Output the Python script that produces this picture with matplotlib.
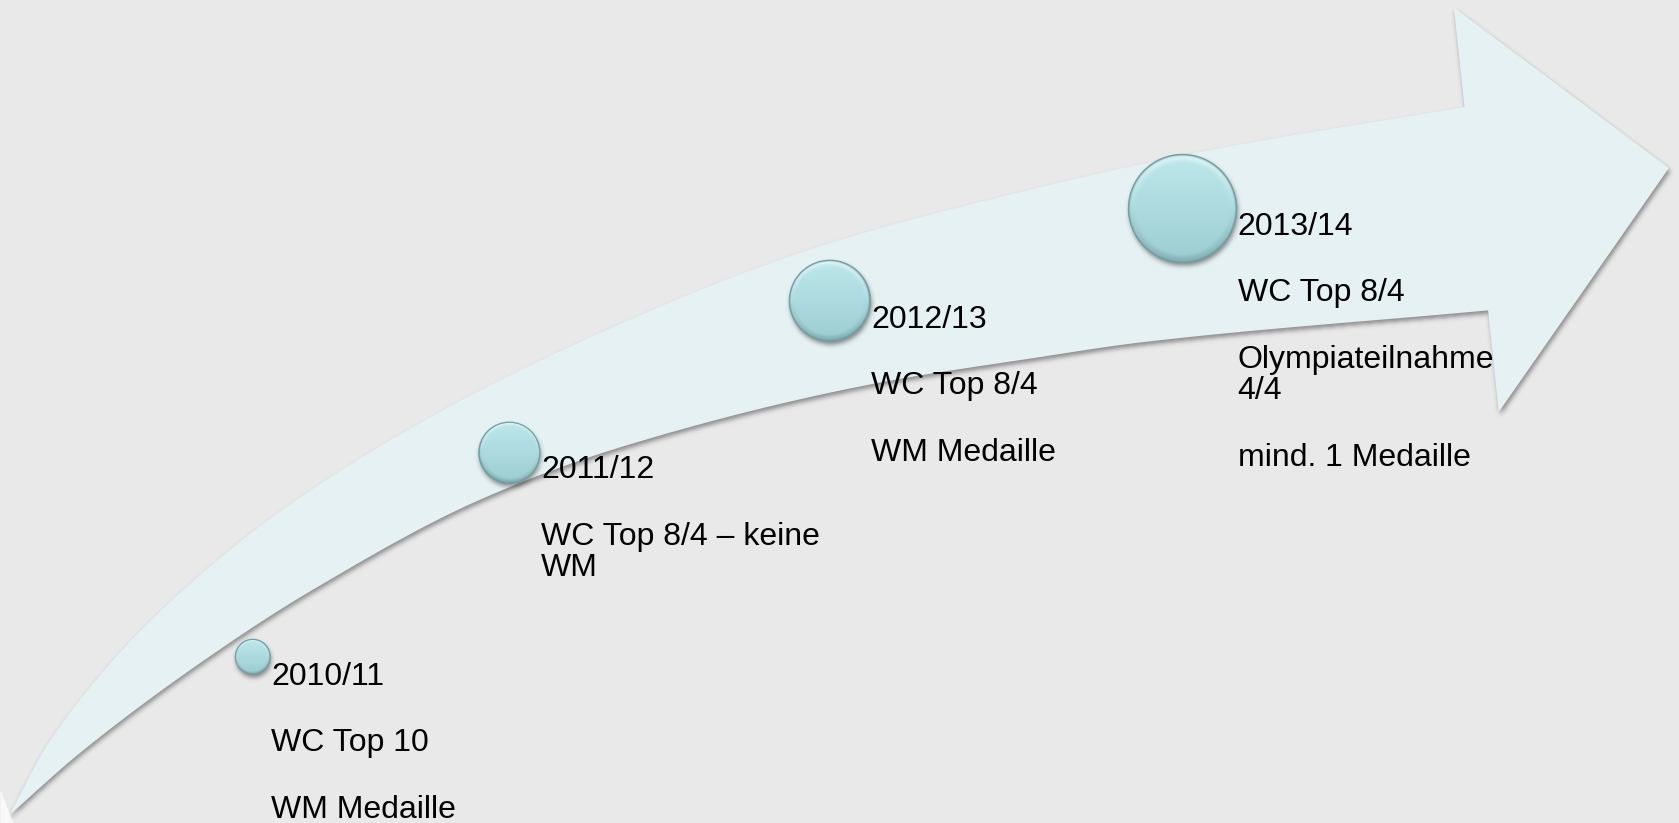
import numpy as np
import matplotlib
matplotlib.use("Agg")
import matplotlib.pyplot as plt
from matplotlib.path import Path
from matplotlib.patches import PathPatch, Circle, Polygon
from matplotlib.colors import to_rgb

# ---------------- data ----------------
seasons = ["2010/11", "2011/12", "2012/13", "2013/14"]
goals = [
    ["WC Top 10", "WM Medaille"],
    ["WC Top 8/4 – keine\nWM"],
    ["WC Top 8/4", "WM Medaille"],
    ["WC Top 8/4", "Olympiateilnahme\n4/4", "mind. 1 Medaille"],
]

# ---------------- layout (canvas units) ----------------
W, H = 1568, 769
bubble_xy = [(235.8, 613.7), (475.5, 423.0), (775.0, 281.0), (1104.5, 194.8)]
bubble_r = [16.3, 28.5, 37.8, 50.5]
first_baseline = [640.0, 447.0, 306.6, 219.5]
PARA_STEP = 62.0
LINE_STEP = 29.5
FONT_SIZE = 23.0

upper_edge = [(8, 762), (47, 691), (171, 551), (330, 432), (567, 308),
              (766, 230), (934, 184), (1121, 142), (1368, 100)]
lower_edge = [(8, 762), (75, 703), (218, 598), (292, 551), (448, 467),
              (579, 418), (819, 358), (969, 334), (1065, 320), (1390, 290)]
head = [(1368, 100), (1358, 7), (1559, 157), (1400, 385), (1390, 290)]

BG = "#e9e9e9"
ARROW = "#e6f1f3"


def pchip(xs, ys, xq):
    xs = np.asarray(xs, float); ys = np.asarray(ys, float)
    h = np.diff(xs); d = np.diff(ys) / h
    m = np.zeros_like(ys)
    for i in range(1, len(xs) - 1):
        if d[i - 1] * d[i] <= 0:
            m[i] = 0
        else:
            w1 = 2 * h[i] + h[i - 1]; w2 = h[i] + 2 * h[i - 1]
            m[i] = (w1 + w2) / (w1 / d[i - 1] + w2 / d[i])
    m[0] = d[0]; m[-1] = d[-1]
    idx = np.clip(np.searchsorted(xs, xq) - 1, 0, len(h) - 1)
    t = (xq - xs[idx]) / h[idx]
    h00 = 2 * t**3 - 3 * t**2 + 1; h10 = t**3 - 2 * t**2 + t
    h01 = -2 * t**3 + 3 * t**2; h11 = t**3 - t**2
    return (h00 * ys[idx] + h10 * h[idx] * m[idx]
            + h01 * ys[idx + 1] + h11 * h[idx] * m[idx + 1])


def edge_curve(pts, n=400):
    xs, ys = zip(*pts)
    xq = np.linspace(xs[0], xs[-1], n)
    return np.column_stack([xq, pchip(xs, ys, xq)])


up = edge_curve(upper_edge)
lo = edge_curve(lower_edge)
outline = np.vstack([up, np.array(head[1:-1], float), lo[::-1]])
arrow_path = Path(outline, closed=False)

# raster helpers
gx = np.arange(W) + 0.5
gy = np.arange(H) + 0.5
GX, GY = np.meshgrid(gx, gy)
pts = np.column_stack([GX.ravel(), GY.ravel()])


def blur(a, sigma):
    rad = int(3 * sigma)
    k = np.exp(-0.5 * (np.arange(-rad, rad + 1) / sigma) ** 2)
    k /= k.sum()
    out = np.zeros_like(a)
    for i, w in zip(range(-rad, rad + 1), k):
        out += w * np.roll(a, i, axis=1)
    out2 = np.zeros_like(a)
    for i, w in zip(range(-rad, rad + 1), k):
        out2 += w * np.roll(out, i, axis=0)
    return out2


def shadow_image(mask, dx, dy, sigma, alpha, gray=0.25):
    m = np.roll(np.roll(mask, dy, axis=0), dx, axis=1)
    m = blur(m, sigma)
    img = np.zeros((H, W, 4))
    img[..., :3] = gray
    img[..., 3] = np.clip(m * alpha, 0, 1)
    return img


fig = plt.figure(figsize=(16.79, 8.23), dpi=100, facecolor=BG)
ax = fig.add_axes([0, 0, 1, 1])
ax.set_xlim(0, W)
ax.set_ylim(H, 0)
ax.axis("off")
ax.set_facecolor(BG)

# arrow shadow
amask = arrow_path.contains_points(pts).reshape(H, W).astype(float)
ax.imshow(shadow_image(amask, 1, 3, 2.2, 0.55), extent=(0, W, H, 0),
          origin="upper", zorder=1, interpolation="bilinear")
ax.add_patch(PathPatch(arrow_path, facecolor=ARROW, edgecolor="none", zorder=2))

# small white reflection at bottom-left
ax.add_patch(Polygon([(0, 738), (12, 769), (0, 769)], closed=True,
                     facecolor="white", edgecolor="none", alpha=0.75, zorder=2))

# bubble shadows
cmask = np.zeros((H, W))
for (cx, cy), r in zip(bubble_xy, bubble_r):
    cmask = np.maximum(cmask, ((GX - cx) ** 2 + (GY - cy) ** 2 <= r ** 2).astype(float))
ax.imshow(shadow_image(cmask, 1, 3, 2.2, 0.6), extent=(0, W, H, 0),
          origin="upper", zorder=3, interpolation="bilinear")

# bubbles
top_c = np.array(to_rgb("#bde8ec"))
bot_c = np.array(to_rgb("#9dcdd1"))
dark_c = np.array(to_rgb("#6a969b"))
N = 256
u = np.linspace(-1, 1, N)
U, V = np.meshgrid(u, u)
RHO = np.sqrt(U ** 2 + V ** 2)


def smooth(e0, e1, x):
    t = np.clip((x - e0) / (e1 - e0), 0, 1)
    return t * t * (3 - 2 * t)


tt = ((V + 1) / 2)[..., None]
body = top_c * (1 - tt) + bot_c * tt
bev = smooth(0.82, 0.95, RHO)[..., None]
light = np.clip(-V, 0, 1)[..., None]
darkw = np.clip(V, 0, 1)[..., None]
body = body * (1 - bev * light * 0.5) + np.ones(3) * bev * light * 0.5
body = body * (1 - bev * darkw * 0.5) + dark_c * bev * darkw * 0.5
rim = smooth(0.95, 1.0, RHO)[..., None]
body = body * (1 - rim * 0.75) + dark_c * rim * 0.75
bubble_img = np.clip(body, 0, 1)

for (cx, cy), r in zip(bubble_xy, bubble_r):
    im = ax.imshow(bubble_img, extent=(cx - r, cx + r, cy + r, cy - r),
                   origin="upper", zorder=4, interpolation="bilinear")
    clip = Circle((cx, cy), r, transform=ax.transData)
    im.set_clip_path(clip)
    ax.add_patch(Circle((cx, cy), r, facecolor="none", edgecolor="#739ea3",
                        lw=0.9, zorder=5))

# texts
for (cx, cy), r, season, lines, yb in zip(bubble_xy, bubble_r, seasons, goals, first_baseline):
    x = cx + r + 1.0
    y = yb
    ax.text(x, y, season, fontsize=FONT_SIZE, family="Liberation Sans",
            va="baseline", ha="left", color="black", zorder=6)
    for para in lines:
        y += PARA_STEP
        for j, ln in enumerate(para.split("\n")):
            if j > 0:
                y += LINE_STEP
            ax.text(x, y, ln, fontsize=FONT_SIZE, family="Liberation Sans",
                    va="baseline", ha="left", color="black", zorder=6)

fig.savefig("out.png", dpi=100, facecolor=BG)
